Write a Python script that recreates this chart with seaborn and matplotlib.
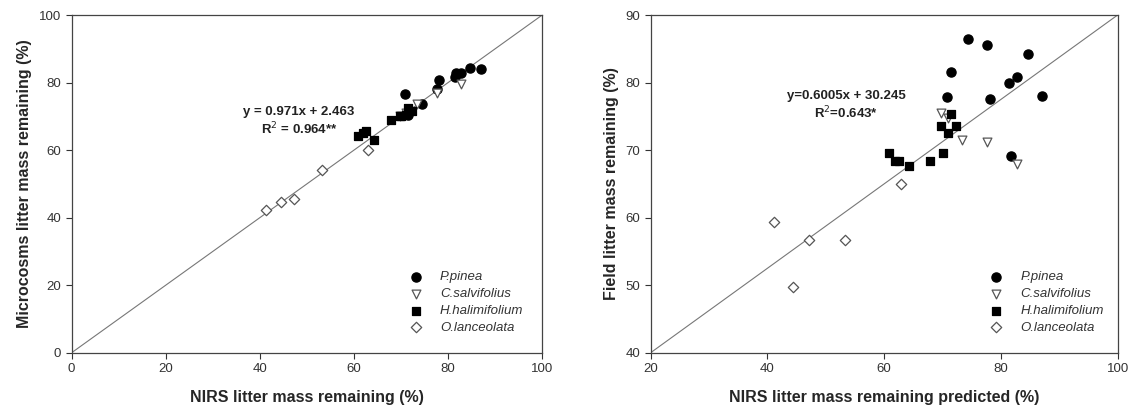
import numpy as np
import pandas as pd
import matplotlib
matplotlib.use("Agg")
import matplotlib.pyplot as plt
import seaborn as sns

# NIRS predicted litter mass remaining (%) per species (shared x of both panels)
pinea_nirs = [70.8, 71.5, 74.4, 77.7, 78.1, 81.45, 81.7, 82.8, 84.7, 87.0]
pinea_micro = [76.7, 70.4, 73.6, 78.1, 80.7, 81.7, 82.9, 82.9, 84.2, 84.0]
pinea_field = [77.85, 81.5, 86.4, 85.5, 77.5, 80.0, 69.15, 80.8, 84.3, 78.05]

cistus_nirs = [69.7, 71.0, 73.4, 77.6, 82.7]
cistus_micro = [70.0, 71.0, 73.6, 77.0, 79.6]
cistus_field = [75.5, 74.7, 71.5, 71.2, 68.0]

halim_nirs = [60.9, 61.9, 62.5, 64.3, 67.8, 70.0, 69.7, 71.4, 71.0, 72.3]
halim_micro = [64.2, 65.2, 65.7, 63.0, 68.8, 70.0, 70.0, 72.5, 70.5, 71.5]
halim_field = [69.6, 68.4, 68.4, 67.6, 68.4, 69.6, 73.6, 75.4, 72.6, 73.6]

olea_nirs = [41.2, 44.4, 47.2, 53.3, 62.9]
olea_micro = [42.4, 44.5, 45.4, 54.1, 60.0]
olea_field = [59.4, 49.8, 56.75, 56.75, 65.0]

species = ["P.pinea", "C.salvifolius", "H.halimifolium", "O.lanceolata"]

rows = []
for name, xs, ym, yf in [
    (species[0], pinea_nirs, pinea_micro, pinea_field),
    (species[1], cistus_nirs, cistus_micro, cistus_field),
    (species[2], halim_nirs, halim_micro, halim_field),
    (species[3], olea_nirs, olea_micro, olea_field),
]:
    for a, b, c in zip(xs, ym, yf):
        rows.append({"species": name, "nirs": a, "micro": b, "field": c})
df = pd.DataFrame(rows)

# marker, face, edge, size
marker_style = {
    "P.pinea": ("o", "black", "black", 44),
    "C.salvifolius": ("v", "white", "#555555", 40),
    "H.halimifolium": ("s", "black", "black", 38),
    "O.lanceolata": ("D", "white", "#555555", 28),
}

sns.set_style("ticks")
plt.rcParams["font.family"] = ["Liberation Sans", "DejaVu Sans"]

fig = plt.figure(figsize=(11.32, 4.07), dpi=100)
ax1 = fig.add_axes([0.0633, 0.1334, 0.4157, 0.8297])
ax2 = fig.add_axes([0.5748, 0.1334, 0.4125, 0.8297])


def draw_panel(ax, ycol, xlim, ylim, xticks, yticks, xlabel, ylabel, eq, eq_xy, leg_x):
    ax.plot([0, 1], [0, 1], transform=ax.transAxes, color="#777777", lw=0.8, zorder=1)
    for sp in species:
        m, fc, ec, s = marker_style[sp]
        sub = df[df["species"] == sp]
        sns.scatterplot(data=sub, x="nirs", y=ycol, ax=ax, marker=m, s=s,
                        color=fc, edgecolor=ec, linewidth=0.9, label=sp, zorder=3)
    ax.set_xlim(*xlim)
    ax.set_ylim(*ylim)
    ax.set_xticks(xticks)
    ax.set_yticks(yticks)
    ax.set_xlabel(xlabel, fontsize=11.5, fontweight="bold", labelpad=11)
    ax.set_ylabel(ylabel, fontsize=11.5, fontweight="bold", labelpad=5)
    ax.tick_params(labelsize=9.5, colors="#333333", length=4, width=0.8, direction="out")
    for s in ax.spines.values():
        s.set_color("#444444")
        s.set_linewidth(0.9)
    ax.text(eq_xy[0], eq_xy[1], eq, ha="center", va="center", fontsize=9.5,
            fontweight="bold", color="#222222", linespacing=1.2)
    leg = ax.legend(loc="lower right", bbox_to_anchor=(leg_x, 0.04), frameon=False,
                    fontsize=9.5, handletextpad=0.8, labelspacing=0.35, borderaxespad=0)
    for t in leg.get_texts():
        t.set_fontstyle("italic")
        t.set_color("#333333")


draw_panel(ax1, "micro", (0, 100), (0, 100), np.arange(0, 101, 20), np.arange(0, 101, 20),
           "NIRS litter mass remaining (%)", "Microcosms litter mass remaining (%)",
           "y = 0.971x + 2.463\nR$^{2}$ = 0.964**", (48.3, 68.3), 0.971)
draw_panel(ax2, "field", (20, 100), (40, 90), np.arange(20, 101, 20), np.arange(40, 91, 10),
           "NIRS litter mass remaining predicted (%)", "Field litter mass remaining (%)",
           "y=0.6005x + 30.245\nR$^{2}$=0.643*", (53.5, 76.6), 0.981)

fig.savefig("out.png", dpi=100)
